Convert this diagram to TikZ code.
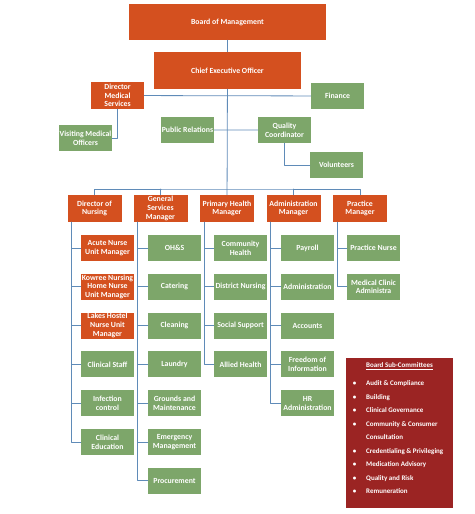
\documentclass[tikz,border=0pt]{standalone}
\usepackage{fontspec}
\setmainfont{Carlito}
\definecolor{boxred}{HTML}{D4501F}
\definecolor{boxgreen}{HTML}{7DA66A}
\definecolor{linkblue}{HTML}{5F8BB8}
\definecolor{panelred}{HTML}{9B2423}
\begin{document}
\begin{tikzpicture}[x=1pt,y=-1pt,line cap=round,line join=round,
    font=\fontsize{7.8}{8.7}\selectfont\bfseries,
    box/.style={text=white,align=center,inner sep=0.5pt,minimum width=53pt,minimum height=26pt},
    redbox/.style={box,fill=boxred},
    greenbox/.style={box,fill=boxgreen},
    link/.style={draw=linkblue,line width=0.8pt},
    subitem/.style={anchor=west,text=white,inner sep=0pt,text height=5pt,text depth=1.5pt,
      font=\fontsize{7}{8}\selectfont\bfseries}]
  \useasboundingbox (0,0) rectangle (474,514);
  % top of the chart
  \node[redbox,minimum width=197pt,minimum height=36pt] (board) at (227.5,22) {Board of Management};
  \node[redbox,minimum width=147pt,minimum height=37pt] (ceo) at (227.5,70.5) {Chief Executive Officer};
  \node[redbox,minimum height=27pt] (dms) at (117.5,95.5) {Director\\Medical\\Services};
  \node[greenbox] (finance) at (337.5,96) {Finance};
  \node[greenbox] (vmo) at (85.5,138) {Visiting Medical\\Officers};
  \node[greenbox] (pr) at (187.5,130) {Public Relations};
  \node[greenbox] (qc) at (284.5,130) {Quality\\Coordinator};
  \node[greenbox] (vol) at (336.5,165) {Volunteers};
  % managers
  \foreach \n/\x/\t in {don/94.5/{Director of\\Nursing},gsm/160.5/{General\\Services\\Manager},
      phm/227/{Primary Health\\Manager},am/293.5/{Administration\\Manager},pm/360/{Practice\\Manager}}
    \node[redbox,minimum width=54pt,minimum height=27pt] (\n) at (\x,208.5) {\t};
  \coordinate (bus) at (227,189);
  \draw[link] (board) -- (ceo);
  \draw[link] (ceo) -- (phm);
  \draw[link] (dms) -- (finance) (pr) -- (qc);
  \draw[link] (dms.south) |- (vmo.east);
  \draw[link] (qc.south) |- (vol.west);
  \draw[link] (don.north) |- (bus) -| (pm.north);
  \foreach \n in {gsm,am} \draw[link] (\n.north) -- (\n.north |- bus);
  % departments
  \foreach \s/\t [count=\i] in {redbox/{Acute Nurse\\Unit Manager},redbox/{Kowree Nursing\\Home Nurse\\Unit Manager},
      redbox/{Lakes Hostel\\Nurse Unit\\Manager},greenbox/{Clinical Staff},greenbox/{Infection\\control},
      greenbox/{Clinical\\Education}}
    \node[\s] (don\i) at (107.5,{248+38.8*(\i-1)}) {\t};
  \foreach \t [count=\i] in {OH\&S,Catering,Cleaning,Laundry,{Grounds and\\Maintenance},{Emergency\\Management},Procurement}
    \node[greenbox] (gsm\i) at (174.5,{248+38.8*(\i-1)}) {\t};
  \foreach \t [count=\i] in {{Community\\Health},District Nursing,Social Support,Allied Health}
    \node[greenbox] (phm\i) at (240.5,{248+38.8*(\i-1)}) {\t};
  \foreach \t [count=\i] in {Payroll,Administration,Accounts,{Freedom of\\Information},{HR\\Administration}}
    \node[greenbox] (am\i) at (307.5,{248+38.8*(\i-1)}) {\t};
  \foreach \t [count=\i] in {Practice Nurse,{Medical Clinic\\Administra}}
    \node[greenbox] (pm\i) at (373.5,{248+38.8*(\i-1)}) {\t};
  \foreach \n/\k in {don/6,gsm/7,phm/4,am/5,pm/2}
    \foreach \i in {1,...,\k}
      \draw[link] ([xshift=4.5pt]\n.south west) |- (\n\i.west);
  % sub-committees panel
  \node[fill=panelred,minimum width=107pt,minimum height=150pt,inner sep=0pt] (subc) at (399.5,433) {};
  \node[subitem,anchor=center] (subtitle) at (399.5,366) {\underline{Board Sub-Committees}};
  \foreach \k/\t in {0/{Audit \& Compliance},1/Building,2/Clinical Governance,3/{Community \& Consumer},
      4/Consultation,5/{Credentialing \& Privileging},6/Medication Advisory,7/Quality and Risk,8/Remuneration}
    \node[subitem] (sc\k) at (366,{384+13.5*\k}) {\t};
  \foreach \k in {0,1,2,3,5,6,7,8}
    \node[subitem,anchor=center] (dot\k) at (354.5,{384+13.5*\k}) {\textbullet};
\end{tikzpicture}
\end{document}
